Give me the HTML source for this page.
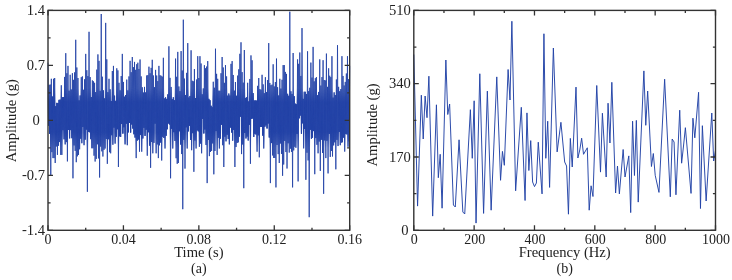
<!DOCTYPE html>
<html><head><meta charset="utf-8"><style>
html,body{margin:0;padding:0;background:#fff;width:732px;height:280px;overflow:hidden}
svg{display:block;will-change:transform}
text{font-family:"Liberation Serif",serif;font-size:14px;fill:#222}
</style></head><body>
<svg width="732" height="280" viewBox="0 0 732 280">
<defs><linearGradient id="cg" gradientUnits="userSpaceOnUse" x1="0" y1="88" x2="0" y2="148"><stop offset="0" stop-color="#fff" stop-opacity="0"/><stop offset="0.233" stop-color="#fff" stop-opacity="1"/><stop offset="0.733" stop-color="#fff" stop-opacity="1"/><stop offset="1" stop-color="#fff" stop-opacity="0"/></linearGradient><mask id="core" maskUnits="userSpaceOnUse" x="0" y="0" width="732" height="280"><rect x="40" y="88" width="320" height="60" fill="url(#cg)"/></mask><path id="sig" d="M48.00,62.70 48.55,125.55 49.11,84.86 49.66,133.84 50.22,84.58 50.77,175.10 51.33,78.80 51.88,152.15 52.44,96.57 52.99,158.10 53.55,78.80 54.10,158.10 54.66,78.00 55.21,163.00 55.76,106.26 56.32,146.47 56.87,102.89 57.43,154.90 57.98,103.08 58.54,145.72 59.09,99.88 59.65,142.05 60.20,99.67 60.76,154.90 61.31,85.30 61.86,154.90 62.42,97.24 62.97,130.18 63.53,97.10 64.08,139.29 64.64,76.93 65.19,144.40 65.75,53.20 66.30,142.10 66.86,73.25 67.41,161.40 67.97,65.90 68.52,129.86 69.07,90.67 69.63,138.41 70.18,74.80 70.74,130.08 71.29,89.47 71.85,138.20 72.40,73.20 72.96,178.30 73.51,79.85 74.07,145.43 74.62,72.39 75.18,150.87 75.73,39.80 76.28,162.20 76.84,67.50 77.39,156.33 77.95,78.00 78.50,154.90 79.06,100.44 79.61,149.30 80.17,95.51 80.72,138.71 81.28,77.21 81.83,143.21 82.38,76.40 82.94,127.03 83.49,89.79 84.05,145.20 84.60,79.27 85.16,139.68 85.71,53.90 86.27,129.53 86.82,70.24 87.38,191.80 87.93,76.08 88.49,131.84 89.04,31.80 89.59,132.20 90.15,77.08 90.70,139.15 91.26,97.06 91.81,148.27 92.37,80.40 92.92,148.26 93.48,81.32 94.03,155.70 94.59,82.80 95.14,161.52 95.70,92.15 96.25,158.90 96.80,69.64 97.36,144.27 97.91,54.40 98.47,158.42 99.02,60.87 99.58,177.50 100.13,90.87 100.69,146.58 101.24,14.00 101.80,151.33 102.35,76.71 102.90,156.50 103.46,90.36 104.01,149.80 104.57,98.50 105.12,148.50 105.68,22.90 106.23,139.06 106.79,59.35 107.34,163.80 107.90,92.14 108.45,139.22 109.01,78.80 109.56,152.23 110.11,89.29 110.67,153.30 111.22,101.12 111.78,135.20 112.33,71.03 112.89,144.73 113.44,65.90 114.00,127.57 114.55,95.68 115.11,143.60 115.66,100.88 116.22,136.80 116.77,68.30 117.32,129.21 117.88,70.38 118.43,167.00 118.99,82.80 119.54,136.31 120.10,90.33 120.65,136.94 121.21,76.07 121.76,124.03 122.32,53.90 122.87,133.59 123.42,81.95 123.98,127.22 124.53,96.72 125.09,144.40 125.64,95.01 126.20,123.68 126.75,79.60 127.31,145.20 127.86,90.39 128.42,132.31 128.97,76.40 129.53,122.97 130.08,60.84 130.63,132.53 131.19,72.21 131.74,124.41 132.30,57.00 132.85,128.52 133.41,67.15 133.96,134.24 134.52,61.90 135.07,137.58 135.63,69.85 136.18,158.10 136.74,64.23 137.29,140.65 137.84,62.70 138.40,139.51 138.95,68.96 139.51,151.70 140.06,59.50 140.62,135.04 141.17,76.41 141.73,151.70 142.28,87.26 142.84,138.48 143.39,92.57 143.95,127.73 144.50,86.90 145.05,135.89 145.61,92.41 146.16,129.64 146.72,75.47 147.27,155.70 147.83,75.18 148.38,132.20 148.94,66.70 149.49,145.66 150.05,73.26 150.60,167.80 151.15,67.87 151.71,142.04 152.26,59.80 152.82,153.30 153.37,75.44 153.93,142.90 154.48,87.18 155.04,123.60 155.59,69.90 156.15,153.30 156.70,75.52 157.26,144.43 157.81,81.08 158.36,158.10 158.92,65.90 159.47,145.32 160.03,75.25 160.58,142.59 161.14,75.76 161.69,160.50 162.25,76.61 162.80,136.89 163.36,57.80 163.91,137.95 164.47,98.55 165.02,148.50 165.57,97.36 166.13,135.78 166.68,98.90 167.24,129.22 167.79,94.36 168.35,123.45 168.90,46.30 169.46,124.38 170.01,77.89 170.57,178.30 171.12,86.94 171.67,128.75 172.23,99.22 172.78,148.50 173.34,97.31 173.89,132.14 174.45,100.31 175.00,140.97 175.56,58.60 176.11,158.22 176.67,76.81 177.22,163.80 177.78,51.90 178.33,163.00 178.88,86.47 179.44,131.20 179.99,91.12 180.55,144.58 181.10,51.10 181.66,154.06 182.21,70.55 182.77,209.20 183.32,19.70 183.88,139.83 184.43,78.61 184.99,168.60 185.54,95.07 186.09,127.28 186.65,72.86 187.20,148.50 187.76,43.10 188.31,131.33 188.87,97.52 189.42,125.67 189.98,95.97 190.53,139.87 191.09,50.30 191.64,150.21 192.19,80.75 192.75,133.11 193.30,81.30 193.86,171.80 194.41,69.10 194.97,140.52 195.52,98.01 196.08,148.50 196.63,79.50 197.19,130.30 197.74,56.20 198.30,131.31 198.85,78.02 199.40,146.80 199.96,56.20 200.51,143.60 201.07,63.50 201.62,153.30 202.18,94.25 202.73,118.84 203.29,88.41 203.84,133.45 204.40,65.24 204.95,129.43 205.51,68.30 206.06,145.02 206.61,66.59 207.17,183.10 207.72,61.10 208.28,140.01 208.83,98.87 209.39,156.12 209.94,100.22 210.50,152.00 211.05,105.80 211.61,150.92 212.16,107.28 212.71,143.42 213.27,81.76 213.82,174.30 214.38,87.71 214.93,151.01 215.49,48.70 216.04,131.07 216.60,73.83 217.15,154.90 217.71,78.80 218.26,137.82 218.82,90.66 219.37,148.50 219.92,90.78 220.48,138.64 221.03,73.22 221.59,124.70 222.14,57.00 222.70,145.19 223.25,67.50 223.81,167.00 224.36,82.84 224.92,136.73 225.47,65.10 226.03,141.32 226.58,76.40 227.13,134.74 227.69,95.70 228.24,138.97 228.80,93.54 229.35,144.40 229.91,95.52 230.46,127.46 231.02,63.86 231.57,132.44 232.13,61.10 232.68,140.71 233.23,74.97 233.79,130.02 234.34,90.64 234.90,167.00 235.45,82.00 236.01,147.02 236.56,95.80 237.12,142.99 237.67,75.60 238.23,142.31 238.78,69.32 239.34,136.66 239.89,53.80 240.44,116.60 241.00,42.30 241.55,154.10 242.11,72.14 242.66,144.48 243.22,82.65 243.77,188.20 244.33,50.00 244.88,132.99 245.44,97.95 245.99,138.45 246.55,97.42 247.10,136.58 247.65,82.80 248.21,140.52 248.76,101.50 249.32,124.72 249.87,78.98 250.43,163.80 250.98,55.40 251.54,118.72 252.09,60.30 252.65,118.44 253.20,93.14 253.75,136.93 254.31,100.57 254.86,133.78 255.42,100.50 255.97,134.46 256.53,100.68 257.08,151.70 257.64,85.85 258.19,135.32 258.75,78.00 259.30,157.30 259.86,89.15 260.41,126.85 260.96,89.77 261.52,126.95 262.07,74.80 262.63,135.56 263.18,84.38 263.74,148.50 264.29,93.21 264.85,126.66 265.40,77.20 265.96,125.28 266.51,92.13 267.07,128.44 267.62,80.05 268.17,123.48 268.73,43.10 269.28,137.52 269.84,82.96 270.39,183.10 270.95,85.20 271.50,143.08 272.06,84.64 272.61,155.46 273.17,64.30 273.72,158.00 274.27,86.45 274.83,157.98 275.38,82.04 275.94,187.40 276.49,58.60 277.05,144.97 277.60,87.20 278.16,154.13 278.71,95.53 279.27,163.00 279.82,78.80 280.38,143.50 280.93,88.59 281.48,153.93 282.04,79.74 282.59,175.80 283.15,65.10 283.70,164.50 284.26,65.10 284.81,140.93 285.37,71.92 285.92,152.05 286.48,73.90 287.03,168.50 287.59,93.82 288.14,143.29 288.69,95.80 289.25,152.56 289.80,11.70 290.36,148.71 290.91,91.27 291.47,151.87 292.02,93.97 292.58,187.40 293.13,53.00 293.69,150.40 294.24,96.19 294.80,146.80 295.35,103.74 295.90,147.81 296.46,104.43 297.01,133.98 297.57,59.40 298.12,181.40 298.68,63.82 299.23,118.27 299.79,52.50 300.34,115.46 300.90,75.94 301.45,133.72 302.00,28.10 302.56,123.26 303.11,98.89 303.67,148.40 304.22,91.73 304.78,128.96 305.33,91.80 305.89,179.80 306.44,93.97 307.00,152.73 307.55,51.30 308.11,160.42 308.66,91.21 309.21,217.20 309.77,87.78 310.32,129.74 310.88,62.60 311.43,138.78 311.99,77.57 312.54,137.73 313.10,46.90 313.65,131.07 314.21,81.36 314.76,174.20 315.32,78.20 315.87,138.08 316.42,77.10 316.98,144.77 317.53,95.24 318.09,153.30 318.64,91.94 319.20,141.52 319.75,59.40 320.31,170.90 320.86,85.55 321.42,139.69 321.97,77.09 322.52,152.98 323.08,60.20 323.63,193.80 324.19,80.00 324.74,140.34 325.30,80.43 325.85,158.10 326.41,53.60 326.96,140.78 327.52,86.87 328.07,173.40 328.63,68.30 329.18,133.91 329.73,75.72 330.29,156.92 330.84,77.12 331.40,150.93 331.95,56.20 332.51,156.50 333.06,97.68 333.62,145.38 334.17,92.38 334.73,142.31 335.28,95.02 335.84,169.30 336.39,79.51 336.94,139.85 337.50,45.20 338.05,146.06 338.61,86.85 339.16,131.84 339.72,91.21 340.27,145.20 340.83,89.08 341.38,142.61 341.94,56.20 342.49,142.23 343.04,75.98 343.60,137.63 344.15,85.51 344.71,151.60 345.26,81.90 345.82,134.07 346.37,73.52 346.93,134.34 347.48,56.20 348.04,146.80 348.59,79.16 349.15,141.42 349.70,65.86"/></defs>
<use href="#sig" fill="none" stroke="#2242a6" stroke-width="0.85" stroke-linejoin="round"/>
<use href="#sig" fill="none" stroke="#2242a6" stroke-width="0.85" stroke-linejoin="round" mask="url(#core)"/>
<path d="M413.80,54.50 417.57,206.10 421.34,95.20 423.23,139.00 425.12,96.00 427.00,117.70 428.89,76.20 432.66,216.10 436.43,104.80 438.32,177.70 440.20,154.30 442.09,208.20 445.86,60.00 447.75,114.50 449.63,104.00 453.41,205.00 455.29,207.00 459.06,139.80 462.84,212.00 464.72,214.00 470.38,109.70 472.27,158.30 474.15,100.80 476.04,223.10 479.81,73.75 483.58,213.40 487.35,91.10 491.13,210.20 496.78,76.90 500.56,180.30 502.44,151.40 504.33,165.30 508.10,69.50 509.99,100.00 511.87,21.25 515.64,190.80 521.30,107.30 525.07,200.50 526.96,112.90 528.85,170.50 530.73,140.60 532.62,182.00 534.50,186.60 536.39,183.00 538.28,142.20 542.05,193.90 543.93,33.75 545.82,158.30 547.71,121.20 549.59,187.40 553.36,48.00 557.14,151.90 560.91,122.30 564.68,162.00 566.57,166.00 568.45,214.20 570.34,138.40 572.22,167.00 576.00,87.10 577.88,158.00 579.77,150.00 581.65,138.20 583.54,154.30 587.31,147.80 589.20,210.20 591.08,185.80 592.97,196.50 596.74,85.50 600.51,172.10 602.40,113.20 606.17,177.00 608.06,103.20 609.94,143.00 611.83,82.30 615.60,193.00 617.49,166.00 619.37,193.90 623.15,149.50 625.03,177.00 628.80,155.90 630.69,212.60 632.58,121.20 634.46,175.50 636.35,120.40 638.23,202.10 643.89,70.90 645.78,125.30 647.66,91.00 651.44,166.50 653.32,153.50 655.21,175.30 658.98,192.40 664.64,79.20 670.30,196.80 672.18,139.00 674.07,142.00 675.95,194.80 679.73,110.20 681.61,163.20 683.50,146.00 685.38,127.70 691.04,193.40 692.93,118.20 694.81,137.80 698.59,92.30 700.47,208.50 702.36,125.70 706.13,201.00 711.79,113.00 713.67,161.00 715.56,150.00" fill="none" stroke="#2242a6" stroke-width="0.95" stroke-linejoin="round"/>
<rect x="48.0" y="10.4" width="301.70" height="219.90" fill="none" stroke="#333" stroke-width="1.4"/>
<rect x="413.8" y="10.4" width="301.70" height="219.90" fill="none" stroke="#333" stroke-width="1.4"/>
<path d="M48.00,230.3v-5M48.00,10.4v5M123.42,230.3v-5M123.42,10.4v5M198.85,230.3v-5M198.85,10.4v5M274.27,230.3v-5M274.27,10.4v5M349.70,230.3v-5M349.70,10.4v5M85.71,230.3v-2.6M85.71,10.4v2.6M161.14,230.3v-2.6M161.14,10.4v2.6M236.56,230.3v-2.6M236.56,10.4v2.6M311.99,230.3v-2.6M311.99,10.4v2.6M48.0,10.40h5M349.7,10.40h-5M48.0,65.38h5M349.7,65.38h-5M48.0,120.35h5M349.7,120.35h-5M48.0,175.32h5M349.7,175.32h-5M48.0,230.30h5M349.7,230.30h-5M48.0,37.89h2.6M349.7,37.89h-2.6M48.0,92.86h2.6M349.7,92.86h-2.6M48.0,147.84h2.6M349.7,147.84h-2.6M48.0,202.81h2.6M349.7,202.81h-2.6" stroke="#333" stroke-width="1.3" fill="none"/>
<path d="M413.80,230.3v-5M413.80,10.4v5M474.14,230.3v-5M474.14,10.4v5M534.48,230.3v-5M534.48,10.4v5M594.82,230.3v-5M594.82,10.4v5M655.16,230.3v-5M655.16,10.4v5M715.50,230.3v-5M715.50,10.4v5M443.97,230.3v-2.6M443.97,10.4v2.6M504.31,230.3v-2.6M504.31,10.4v2.6M564.65,230.3v-2.6M564.65,10.4v2.6M624.99,230.3v-2.6M624.99,10.4v2.6M685.33,230.3v-2.6M685.33,10.4v2.6M413.8,230.30h5M715.5,230.30h-5M413.8,157.00h5M715.5,157.00h-5M413.8,83.70h5M715.5,83.70h-5M413.8,10.40h5M715.5,10.40h-5M413.8,193.65h2.6M715.5,193.65h-2.6M413.8,120.35h2.6M715.5,120.35h-2.6M413.8,47.05h2.6M715.5,47.05h-2.6" stroke="#333" stroke-width="1.3" fill="none"/>
<text x="48.00" y="244.00" text-anchor="middle" >0</text>
<text x="123.42" y="244.00" text-anchor="middle" >0.04</text>
<text x="198.85" y="244.00" text-anchor="middle" >0.08</text>
<text x="274.27" y="244.00" text-anchor="middle" >0.12</text>
<text x="349.70" y="244.00" text-anchor="middle" >0.16</text>
<text x="45.00" y="15.30" text-anchor="end" style="font-size:14.6px">1.4</text>
<text x="45.00" y="70.28" text-anchor="end" style="font-size:14.6px">0.7</text>
<text x="39.80" y="125.25" text-anchor="end" style="font-size:14.6px">0</text>
<text x="45.00" y="180.22" text-anchor="end" style="font-size:14.6px"><tspan dy="-0.9">-</tspan><tspan dy="0.9">0.7</tspan></text>
<text x="45.00" y="235.20" text-anchor="end" style="font-size:14.6px"><tspan dy="-0.9">-</tspan><tspan dy="0.9">1.4</tspan></text>
<text x="414.30" y="244.00" text-anchor="middle" >0</text>
<text x="474.64" y="244.00" text-anchor="middle" >200</text>
<text x="534.98" y="244.00" text-anchor="middle" >400</text>
<text x="595.32" y="244.00" text-anchor="middle" >600</text>
<text x="655.66" y="244.00" text-anchor="middle" >800</text>
<text x="716.00" y="244.00" text-anchor="middle" >1000</text>
<text x="408.60" y="234.80" text-anchor="end" style="font-size:14.6px">0</text>
<text x="410.80" y="161.50" text-anchor="end" style="font-size:14.6px">170</text>
<text x="410.80" y="88.20" text-anchor="end" style="font-size:14.6px">340</text>
<text x="410.80" y="14.90" text-anchor="end" style="font-size:14.6px">510</text>
<text x="198.85" y="257.00" text-anchor="middle" style="font-size:14.6px">Time (s)</text>
<text x="198.85" y="273.00" text-anchor="middle" >(a)</text>
<text x="564.65" y="257.00" text-anchor="middle" style="font-size:14.6px">Frequency (Hz)</text>
<text x="564.65" y="273.00" text-anchor="middle" >(b)</text>
<text x="0.00" y="0.00" text-anchor="middle" style="font-size:14.6px" transform="translate(16.3,120.7) rotate(-90)">Amplitude (g)</text>
<text x="0.00" y="0.00" text-anchor="middle" style="font-size:14.6px" transform="translate(376.7,124.9) rotate(-90)">Amplitude (g)</text>
</svg>
</body></html>
